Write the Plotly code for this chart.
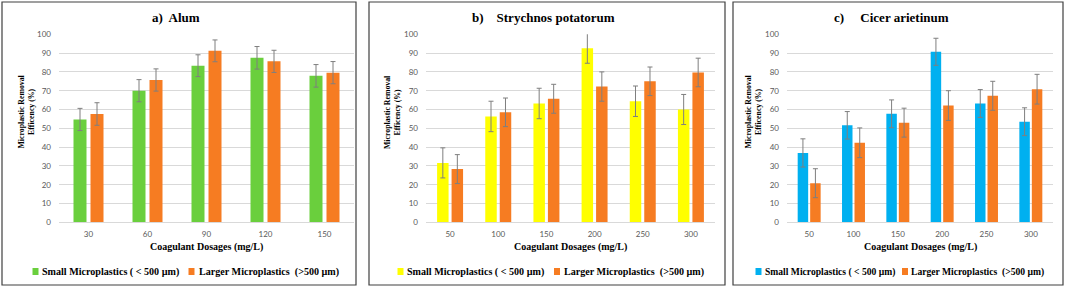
import plotly.graph_objects as go

W, H = 1065, 288

# ---------------- data ----------------
alum_doses = ["30", "60", "90", "120", "150"]
alum_small = [54.7, 70.0, 83.3, 87.5, 77.9]
alum_small_err = [5.9, 5.9, 5.8, 6.0, 6.0]
alum_large = [57.6, 75.7, 91.2, 85.6, 79.6]
alum_large_err = [6.0, 5.9, 5.8, 5.9, 5.9]

stry_doses = ["50", "100", "150", "200", "250", "300"]
stry_small = [31.6, 56.3, 63.2, 92.6, 64.4, 60.0]
stry_small_err = [8.0, 8.1, 8.1, 8.0, 8.1, 8.0]
stry_large = [28.3, 58.5, 65.7, 72.2, 75.0, 79.7]
stry_large_err = [7.7, 7.6, 7.7, 7.8, 7.6, 7.6]

cicer_doses = ["50", "100", "150", "200", "250", "300"]
cicer_small = [36.9, 51.6, 57.7, 90.7, 63.2, 53.5]
cicer_small_err = [7.5, 7.3, 7.4, 7.2, 7.4, 7.4]
cicer_large = [20.8, 42.3, 53.0, 62.1, 67.3, 70.8]
cicer_large_err = [7.7, 7.9, 7.7, 7.9, 7.7, 7.9]

small_name = "Small Microplastics ( &lt; 500 µm)"
large_name = "Larger Microplastics &nbsp;(&gt;500 µm)"
titles = ["a)&nbsp; Alum", "b)&nbsp;&nbsp;&nbsp; Strychnos potatorum", "c)&nbsp;&nbsp;&nbsp;&nbsp; Cicer arietinum"]
x_title = "Coagulant Dosages (mg/L)"
y_title = "Microplastic Removal<br>Efficency (%)"

GREEN = "#6ACF3D"
YELLOW = "#FFFF00"
BLUE = "#00B0F0"
ORANGE = "#F67C22"
ERR = "#7F7F7F"
SERIF = "Liberation Serif"
SANS = "Lato"


def px(x):
    return x / W


def py(y):
    return 1 - y / H


# panel geometry in pixels
panels = [
    dict(box=(2, 2, 356, 285), plot=(59, 354), bw=13 / 59, gap=4 / 59, ytx=26.5, tx=150,
         leg=(32.5, 39.5, 188.5, 196.5), lfs=10.1,
         doses=alum_doses, s=alum_small, se=alum_small_err, l=alum_large, le=alum_large_err,
         color=GREEN),
    dict(box=(369, 2, 725, 285), plot=(426, 715), bw=11.5 / 48.2, gap=3 / 48.2, ytx=393, tx=470,
         leg=(397.5, 405, 554, 561.5), lfs=10.1,
         doses=stry_doses, s=stry_small, se=stry_small_err, l=stry_large, le=stry_large_err,
         color=YELLOW),
    dict(box=(733, 2, 1063, 285), plot=(787, 1053), bw=10.5 / 44.4, gap=2 / 44.4, ytx=753.5, tx=831.5,
         leg=(755.5, 763, 902, 909), lfs=9.6,
         doses=cicer_doses, s=cicer_small, se=cicer_small_err, l=cicer_large, le=cicer_large_err,
         color=BLUE),
]

plot_top, plot_bot = 34.3, 222.3
leg_y = 271.5

fig = go.Figure()
shapes = []
annotations = []
layout_axes = {}

for i, p in enumerate(panels):
    n = "" if i == 0 else str(i + 1)
    xa, ya = "x" + n, "y" + n
    bw, gap = p["bw"], p["gap"]
    fig.add_trace(go.Bar(
        x=p["doses"], y=p["s"], name=small_name,
        marker=dict(color=p["color"], line=dict(width=0)),
        width=bw, offset=-(bw + gap / 2),
        error_y=dict(type="data", array=p["se"], color=ERR, thickness=1, width=2.5),
        xaxis=xa, yaxis=ya, showlegend=False, cliponaxis=False))
    fig.add_trace(go.Bar(
        x=p["doses"], y=p["l"], name=large_name,
        marker=dict(color=ORANGE, line=dict(width=0)),
        width=bw, offset=gap / 2,
        error_y=dict(type="data", array=p["le"], color=ERR, thickness=1, width=2.5),
        xaxis=xa, yaxis=ya, showlegend=False, cliponaxis=False))

    x0, x1 = p["plot"]
    layout_axes["xaxis" + n] = dict(
        domain=[px(x0), px(x1)], anchor=ya, type="category",
        showgrid=False, showline=True, linecolor="#D9D9D9", linewidth=1,
        ticks="", tickfont=dict(family=SANS, size=8, color="#595959"),
        ticklabelstandoff=4, automargin=False, fixedrange=True)
    layout_axes["yaxis" + n] = dict(
        domain=[py(plot_bot), py(plot_top)], anchor=xa, range=[0, 100], dtick=10,
        showgrid=True, gridcolor="#D9D9D9", gridwidth=1, zeroline=False, showline=False,
        ticks="", tickfont=dict(family=SANS, size=8, color="#595959"),
        ticklabelstandoff=7, automargin=False, fixedrange=True)

    # panel border
    bx0, by0, bx1, by1 = p["box"]
    shapes.append(dict(type="rect", xref="paper", yref="paper",
                       x0=px(bx0), x1=px(bx1), y0=py(by1), y1=py(by0),
                       line=dict(color="#404040", width=1.2)))
    # titles
    annotations.append(dict(text="<b>" + titles[i] + "</b>", x=px(p["tx"]), y=py(17),
                            xref="paper", yref="paper", showarrow=False,
                            xanchor="left", yanchor="middle",
                            font=dict(family=SERIF, size=13, color="#000000")))
    annotations.append(dict(text="<b>" + x_title + "</b>", x=px((x0 + x1) / 2), y=py(247),
                            xref="paper", yref="paper", showarrow=False,
                            xanchor="center", yanchor="middle",
                            font=dict(family=SERIF, size=10, color="#000000")))
    annotations.append(dict(text="<b>" + y_title + "</b>", x=px(p["ytx"]), y=py(112),
                            xref="paper", yref="paper", showarrow=False, textangle=-90,
                            xanchor="center", yanchor="middle",
                            font=dict(family=SERIF, size=7.8, color="#000000")))
    # legend (swatches + labels)
    s1, t1, s2, t2 = p["leg"]
    for sx, tx, col, name in [(s1, t1, p["color"], small_name), (s2, t2, ORANGE, large_name)]:
        shapes.append(dict(type="rect", xref="paper", yref="paper",
                           x0=px(sx), x1=px(sx + 6), y0=py(leg_y + 3.5), y1=py(leg_y - 3.5),
                           fillcolor=col, line=dict(width=0)))
        annotations.append(dict(text="<b>" + name + "</b>", x=px(tx), y=py(leg_y),
                                xref="paper", yref="paper", showarrow=False,
                                xanchor="left", yanchor="middle",
                                font=dict(family=SERIF, size=p["lfs"], color="#000000")))

fig.update_layout(
    width=W, height=H,
    margin=dict(l=0, r=0, t=0, b=0, autoexpand=False),
    paper_bgcolor="white", plot_bgcolor="white",
    barmode="group", showlegend=False,
    shapes=shapes, annotations=annotations,
    **layout_axes)

fig.write_html("out.html", config={"displayModeBar": False, "staticPlot": True},
               post_script="document.body.style.margin='0';document.body.style.overflow='hidden';")
